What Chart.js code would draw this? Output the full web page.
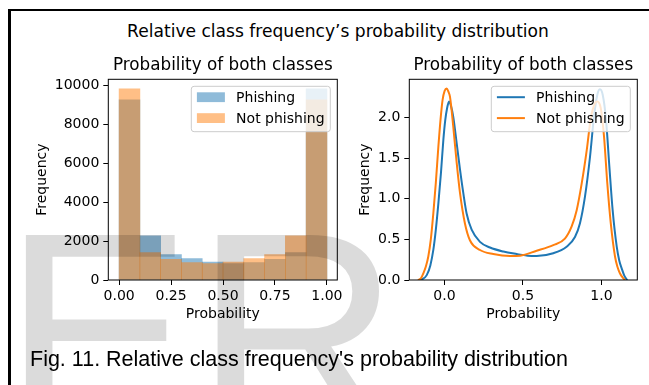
<!DOCTYPE html>
<html>
<head>
<meta charset="utf-8">
<script src="https://cdn.jsdelivr.net/npm/chart.js@4.4.1/dist/chart.umd.min.js"></script>
<style>
  html, body { margin: 0; padding: 0; background: #fff; }
  #page { position: relative; width: 649px; height: 385px; overflow: hidden; background: #fff; }
  .frame { position: absolute; left: 8px; top: 9px; right: -20px; bottom: -20px;
           border-left: 3px solid #000; border-top: 2px solid #000; }
  .suptitle { position: absolute; left: 0; width: 676px; top: 21px; line-height: 20px;
              text-align: center; font-family: "DejaVu Sans"; font-size: 17.1px; color: #000; }
  .caption { position: absolute; left: 30px; top: 347px; line-height: 24px; white-space: nowrap;
             font-family: "Liberation Sans"; font-size: 21.5px; color: #000; }
  canvas { position: absolute; }
  #histChart { left: 0; top: 50px; width: 345px; height: 300px; }
  #kdeChart { left: 345px; top: 50px; width: 304px; height: 300px; }
  #watermark { left: 0; top: 0; width: 649px; height: 385px; pointer-events: none; }
</style>
</head>
<body>
<div id="page">
  <div class="frame"></div>
  <div class="suptitle">Relative class frequency’s probability distribution</div>
  <canvas id="histChart" width="345" height="300"></canvas>
  <canvas id="kdeChart" width="304" height="300"></canvas>
  <div class="caption">Fig. 11. Relative class frequency's probability distribution</div>
  <canvas id="watermark" width="649" height="385"></canvas>
</div>
<script>
// histogram: 10 bins over [0, 1]
const binEdges = [0, 0.1, 0.2, 0.3, 0.4, 0.5, 0.6, 0.7, 0.8, 0.9, 1.0];
const phishingCounts = [9250, 2270, 1310, 1105, 918, 850, 900, 1056, 1410, 9815];
const notPhishingCounts = [9815, 1410, 1056, 900, 850, 918, 1105, 1310, 2270, 9250];
const histXTicks = [0, 0.25, 0.5, 0.75, 1.0];
const histYTicks = [0, 2000, 4000, 6000, 8000, 10000];

// density curves
const phishingKdeX = [-0.165, -0.14, -0.113, -0.09, -0.071, -0.055, -0.039, -0.022, -0.007, 0.005,
  0.016, 0.029, 0.042, 0.056, 0.078, 0.099, 0.12, 0.141, 0.173, 0.226,
  0.29, 0.375, 0.46, 0.53, 0.587, 0.693, 0.778, 0.831, 0.863, 0.895,
  0.927, 0.952, 0.973, 0.99, 1.008, 1.029, 1.05, 1.071, 1.097, 1.113,
  1.129, 1.146, 1.164];
const phishingKdeY = [0, 0.01, 0.06, 0.18, 0.37, 0.62, 0.94, 1.33, 1.73, 1.97,
  2.11, 2.20, 2.14, 2.01, 1.68, 1.36, 1.07, 0.82, 0.62, 0.47,
  0.40, 0.35, 0.32, 0.30, 0.296, 0.33, 0.41, 0.53, 0.70, 1.03,
  1.52, 2.01, 2.28, 2.35, 2.28, 1.97, 1.40, 0.86, 0.41, 0.24,
  0.14, 0.05, 0];
const notPhishingKdeX = [-0.169, -0.15, -0.135, -0.118, -0.103, -0.087, -0.071, -0.055, -0.039, -0.025,
  -0.012, 0.001, 0.014, 0.025, 0.035, 0.056, 0.078, 0.099, 0.13, 0.162,
  0.226, 0.311, 0.417, 0.481, 0.587, 0.693, 0.767, 0.81, 0.842, 0.874,
  0.906, 0.933, 0.959, 0.973, 0.995, 1.016, 1.037, 1.059, 1.086, 1.102,
  1.118, 1.135, 1.15];
const notPhishingKdeY = [0, 0.02, 0.08, 0.17, 0.29, 0.50, 0.82, 1.20, 1.64, 1.98,
  2.22, 2.33, 2.36, 2.32, 2.26, 1.89, 1.44, 1.07, 0.70, 0.49,
  0.37, 0.32, 0.296, 0.30, 0.36, 0.43, 0.51, 0.66, 0.86, 1.19,
  1.60, 2.01, 2.18, 2.20, 2.12, 1.77, 1.19, 0.70, 0.29, 0.16,
  0.08, 0.03, 0];
const kdeXTicks = [0, 0.5, 1.0];
const kdeYTicks = [0, 0.5, 1.0, 1.5, 2.0];

const BLUE = "#1f77b4";
const ORANGE = "#ff7f0e";

Chart.defaults.font.family = "'DejaVu Sans', sans-serif";
Chart.defaults.font.size = 14;
Chart.defaults.color = "#000";
Chart.defaults.animation = false;

const binCenters = binEdges.slice(0, -1).map((e, i) => (e + binEdges[i + 1]) / 2);
const toPoints = (xs, ys) => xs.map((x, i) => ({ x: x, y: ys[i] }));

// box spines, subplot title and the legend inside the upper right corner
const axesDecor = {
    id: "axesDecor",
    afterDatasetsDraw(chart, args, opts) {
        const { ctx, chartArea: a } = chart;
        ctx.save();
        ctx.strokeStyle = "#000";
        ctx.lineWidth = 1;
        ctx.strokeRect(a.left, a.top, a.right - a.left, a.bottom - a.top);

        ctx.fillStyle = "#000";
        ctx.font = "16.8px 'DejaVu Sans'";
        ctx.textAlign = "center";
        ctx.textBaseline = "alphabetic";
        ctx.fillText(opts.title, (a.left + a.right) / 2, a.top - 9);

        const w = 139, h = 45.4;
        const x0 = a.right - 7 - w, y0 = a.top + 7;
        ctx.beginPath();
        ctx.roundRect(x0, y0, w, h, 2.8);
        ctx.fillStyle = "rgba(255,255,255,0.8)";
        ctx.fill();
        ctx.strokeStyle = "#cccccc";
        ctx.stroke();

        ctx.font = "14px 'DejaVu Sans'";
        ctx.textAlign = "left";
        chart.data.datasets.forEach((ds, i) => {
            const cy = y0 + 10.9 + i * 20.9;
            if (opts.handle === "patch") {
                ctx.fillStyle = ds.backgroundColor;
                ctx.fillRect(x0 + 5.6, cy - 4.9, 28, 9.8);
            } else {
                ctx.strokeStyle = ds.borderColor;
                ctx.lineWidth = 2;
                ctx.beginPath();
                ctx.moveTo(x0 + 5.6, cy);
                ctx.lineTo(x0 + 33.6, cy);
                ctx.stroke();
            }
            ctx.fillStyle = "#000";
            ctx.fillText(ds.label, x0 + 44.8, cy + 5);
        });
        ctx.restore();
    },
};

function axis(opts) {
    return {
        type: "linear",
        min: opts.min,
        max: opts.max,
        offset: false,
        border: { display: false },
        grid: { display: true, offset: false, drawOnChartArea: false, drawTicks: true,
                tickLength: 5, tickColor: "#000", tickWidth: 1 },
        ticks: { autoSkip: false, maxRotation: 0, padding: opts.pad, color: "#000",
                 callback: (v) => opts.fmt(v) },
        title: { display: true, text: opts.title, padding: opts.titlePad },
        afterBuildTicks: (s) => { s.ticks = opts.ticks.map((v) => ({ value: v })); },
        afterFit: (s) => {
            if (opts.width) s.width = opts.width;
            if (opts.height) s.height = opts.height;
            s.paddingTop = 0; s.paddingBottom = 0; s.paddingLeft = 0; s.paddingRight = 0;
        },
    };
}

new Chart(document.getElementById("histChart"), {
    type: "bar",
    data: {
        datasets: [
            {
                label: "Phishing",
                data: toPoints(binCenters, phishingCounts),
                backgroundColor: "rgba(31,119,180,0.5)",
                borderWidth: 0,
                order: 2,
            },
            {
                label: "Not phishing",
                data: toPoints(binCenters, notPhishingCounts),
                backgroundColor: "rgba(255,127,14,0.5)",
                borderWidth: 0,
                order: 1,
            },
        ],
    },
    options: {
        responsive: false,
        grouped: false,
        barPercentage: 1,
        categoryPercentage: 1,
        layout: { padding: { left: 0, right: 7.7, top: 29.3, bottom: 10 } },
        scales: {
            x: axis({ min: -0.052, max: 1.05, ticks: histXTicks, fmt: (v) => v.toFixed(2),
                      pad: 3, title: "Probability", titlePad: { top: 0, bottom: 17.6 }, height: 60 }),
            y: axis({ min: 0, max: 10311, ticks: histYTicks, fmt: (v) => String(v),
                      pad: 4, title: "Frequency", titlePad: { top: 34.1, bottom: 0 }, width: 108.3 }),
        },
        plugins: {
            legend: { display: false },
            tooltip: { enabled: false },
            axesDecor: { title: "Probability of both classes", handle: "patch" },
        },
    },
    plugins: [axesDecor],
});

new Chart(document.getElementById("kdeChart"), {
    type: "line",
    data: {
        datasets: [
            {
                label: "Phishing",
                data: toPoints(phishingKdeX, phishingKdeY),
                borderColor: BLUE,
                order: 2,
            },
            {
                label: "Not phishing",
                data: toPoints(notPhishingKdeX, notPhishingKdeY),
                borderColor: ORANGE,
                order: 1,
            },
        ],
    },
    options: {
        responsive: false,
        elements: {
            point: { radius: 0 },
            line: { borderWidth: 2, cubicInterpolationMode: "monotone", fill: false },
        },
        layout: { padding: { left: 0, right: 11.7, top: 29.3, bottom: 10 } },
        scales: {
            x: axis({ min: -0.224, max: 1.228, ticks: kdeXTicks, fmt: (v) => v.toFixed(1),
                      pad: 3, title: "Probability", titlePad: { top: 0, bottom: 17.6 }, height: 60 }),
            y: axis({ min: 0, max: 2.473, ticks: kdeYTicks, fmt: (v) => v.toFixed(1),
                      pad: 4, title: "Frequency", titlePad: { top: 11.6, bottom: 0 }, width: 64.3 }),
        },
        plugins: {
            legend: { display: false },
            tooltip: { enabled: false },
            axesDecor: { title: "Probability of both classes", handle: "line" },
        },
    },
    plugins: [axesDecor],
});

// large grey lettering laid over the figure
const wm = document.getElementById("watermark").getContext("2d");
wm.fillStyle = "rgba(0,0,0,0.14)";
wm.font = "285px 'Liberation Sans'";
wm.textBaseline = "alphabetic";
wm.fillText("E", 2.5, 431);
wm.fillText("R", 194.2, 431);
</script>
</body>
</html>
